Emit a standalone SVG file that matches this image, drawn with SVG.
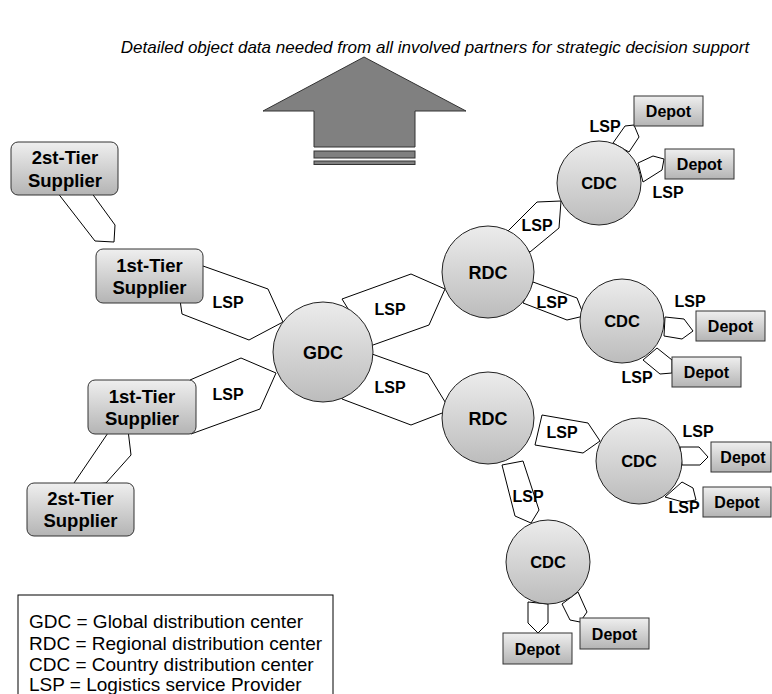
<svg xmlns="http://www.w3.org/2000/svg" width="772" height="694" viewBox="0 0 772 694">
<defs>
<linearGradient id="gv" x1="0" y1="0" x2="0" y2="1">
<stop offset="0" stop-color="#efefef"/>
<stop offset="1" stop-color="#b4b4b4"/>
</linearGradient>
<linearGradient id="gc" x1="0" y1="0" x2="0" y2="1">
<stop offset="0" stop-color="#ececec"/>
<stop offset="1" stop-color="#bcbcbc"/>
</linearGradient>
<style>
.lsp{fill:#fff;stroke:#000;stroke-width:1}
.circ{fill:url(#gc);stroke:#222;stroke-width:1}
.box{fill:url(#gv);stroke:#333;stroke-width:1}
.t{font-family:"Liberation Sans",Arial,sans-serif;font-weight:bold;text-anchor:middle;fill:#000}
.sup{font-size:18.5px}
.big{font-size:18px}
.cdc{font-size:16.5px}
.dep{font-size:16px}
.l{font-family:"Liberation Sans",Arial,sans-serif;font-weight:bold;font-size:16px;text-anchor:middle;fill:#000}
.leg{font-family:"Liberation Sans",Arial,sans-serif;font-size:19px;fill:#000}
</style>
</defs>
<rect width="772" height="694" fill="#fff"/>
<text x="435" y="53" font-family="'Liberation Sans',Arial,sans-serif" font-style="italic" font-size="17" text-anchor="middle">Detailed object data needed from all involved partners for strategic decision support</text>
<g id="bigarrow" fill="#808080" stroke="#333" stroke-width="1">
<polygon points="364,57 466,111 415,111 415,147 314,147 314,111 263,111"/>
<rect x="314" y="151" width="101" height="7"/>
<rect x="314" y="161" width="101" height="3.5"/>
</g>
<g id="connectors">
<polygon class="lsp" points="57,192 91,192 115,225 114,242 95,241"/>
<polygon class="lsp" points="110,430 128,430 131,455 106,483 72,486"/>
<polygon class="lsp" points="195,270 203,266 268,289 283,322 249,340 182,314 180,300"/>
<polygon class="lsp" points="190,380 241,358 276,373 260,409 191,434 190,410"/>
<polygon class="lsp" points="350,312 342,299 411,274 445,289 429,325 373,345 360,350"/>
<polygon class="lsp" points="372,354 428,374 450,410 411,425 342,399 340,380"/>
<polygon class="lsp" points="508,231 537,202 561,201 559,228 530,252"/>
<polygon class="lsp" points="533,282 577,298 584,316 567,320 523,303"/>
<polygon class="lsp" points="542,415 588,423 600,441 583,453 535,445"/>
<polygon class="lsp" points="502,465 523,461 539,510 531,523 515,516"/>
<polygon class="lsp" points="613,143 625,126 634,125 639,137 629,152"/>
<polygon class="lsp" points="638,163 653,156 664,159 662,170 643,182"/>
<polygon class="lsp" points="665,317 684,319 693,331 682,339 664,336"/>
<polygon class="lsp" points="657,348 672,360 672,373 660,374 643,360"/>
<polygon class="lsp" points="680,447 699,447 708,457 700,465 682,465"/>
<polygon class="lsp" points="682,482 693,488 696,500 683,502 665,497"/>
<polygon class="lsp" points="528,602 528,623 538,633 548,623 548,604"/>
<polygon class="lsp" points="562,604 570,620 580,622 587,612 578,592"/>
<text class="l" x="228" y="308">LSP</text>
<text class="l" x="228" y="400">LSP</text>
<text class="l" x="390" y="315">LSP</text>
<text class="l" x="390" y="393">LSP</text>
<text class="l" x="537" y="231">LSP</text>
<text class="l" x="552" y="308">LSP</text>
<text class="l" x="605" y="132">LSP</text>
<text class="l" x="668" y="198">LSP</text>
<text class="l" x="690" y="307">LSP</text>
<text class="l" x="637" y="383">LSP</text>
<text class="l" x="562" y="438">LSP</text>
<text class="l" x="698" y="437">LSP</text>
<text class="l" x="684" y="513">LSP</text>
<text class="l" x="528" y="502">LSP</text>
</g>
<g id="sup2a"><rect class="box" x="11" y="142" width="107" height="53" rx="7"/><text class="t sup" x="65" y="164">2st-Tier</text><text class="t sup" x="65" y="187">Supplier</text></g>
<g id="sup1a"><rect class="box" x="96" y="249" width="107" height="54" rx="7"/><text class="t sup" x="149.5" y="272">1st-Tier</text><text class="t sup" x="149.5" y="294">Supplier</text></g>
<g id="sup1b"><rect class="box" x="88" y="380" width="108" height="54" rx="7"/><text class="t sup" x="142" y="403">1st-Tier</text><text class="t sup" x="142" y="425">Supplier</text></g>
<g id="sup2b"><rect class="box" x="27" y="483" width="107" height="53" rx="7"/><text class="t sup" x="80.5" y="505">2st-Tier</text><text class="t sup" x="80.5" y="527">Supplier</text></g>
<g id="gdc"><circle class="circ" cx="323" cy="352" r="50"/><text class="t big" x="323" y="359">GDC</text></g>
<g id="rdc1"><circle class="circ" cx="488" cy="272" r="46"/><text class="t big" x="488" y="278.5">RDC</text></g>
<g id="rdc2"><circle class="circ" cx="488" cy="418" r="46"/><text class="t big" x="488" y="424.5">RDC</text></g>
<g id="cdc1"><circle class="circ" cx="599" cy="183" r="42"/><text class="t cdc" x="599" y="189">CDC</text></g>
<g id="cdc2"><circle class="circ" cx="622" cy="321" r="42"/><text class="t cdc" x="622" y="327">CDC</text></g>
<g id="cdc3"><circle class="circ" cx="639" cy="461" r="43"/><text class="t cdc" x="639" y="467">CDC</text></g>
<g id="cdc4"><circle class="circ" cx="548" cy="562" r="42"/><text class="t cdc" x="548" y="568">CDC</text></g>
<g id="depot1"><rect class="box" x="634" y="96" width="69" height="30"/><text class="t dep" x="668.5" y="117">Depot</text></g>
<g id="depot2"><rect class="box" x="665" y="149" width="69" height="30"/><text class="t dep" x="699.5" y="170">Depot</text></g>
<g id="depot3"><rect class="box" x="696" y="311" width="69" height="30"/><text class="t dep" x="730.5" y="332">Depot</text></g>
<g id="depot4"><rect class="box" x="672" y="357" width="69" height="30"/><text class="t dep" x="706.5" y="378">Depot</text></g>
<g id="depot5"><rect class="box" x="711" y="442" width="60" height="30"/><text class="t dep" x="743" y="463">Depot</text></g>
<g id="depot6"><rect class="box" x="703" y="487" width="68" height="30"/><text class="t dep" x="737" y="508">Depot</text></g>
<g id="depot7"><rect class="box" x="503" y="633" width="69" height="31"/><text class="t dep" x="537.5" y="655">Depot</text></g>
<g id="depot8"><rect class="box" x="580" y="618" width="69" height="31"/><text class="t dep" x="614.5" y="640">Depot</text></g>
<g id="legend">
<rect x="18" y="595" width="315" height="110" fill="#fff" stroke="#000" stroke-width="1"/>
<text class="leg" x="29" y="628">GDC = Global distribution center</text>
<text class="leg" x="29" y="650">RDC = Regional distribution center</text>
<text class="leg" x="29" y="671">CDC = Country distribution center</text>
<text class="leg" x="29" y="691">LSP = Logistics service Provider</text>
</g>
</svg>
